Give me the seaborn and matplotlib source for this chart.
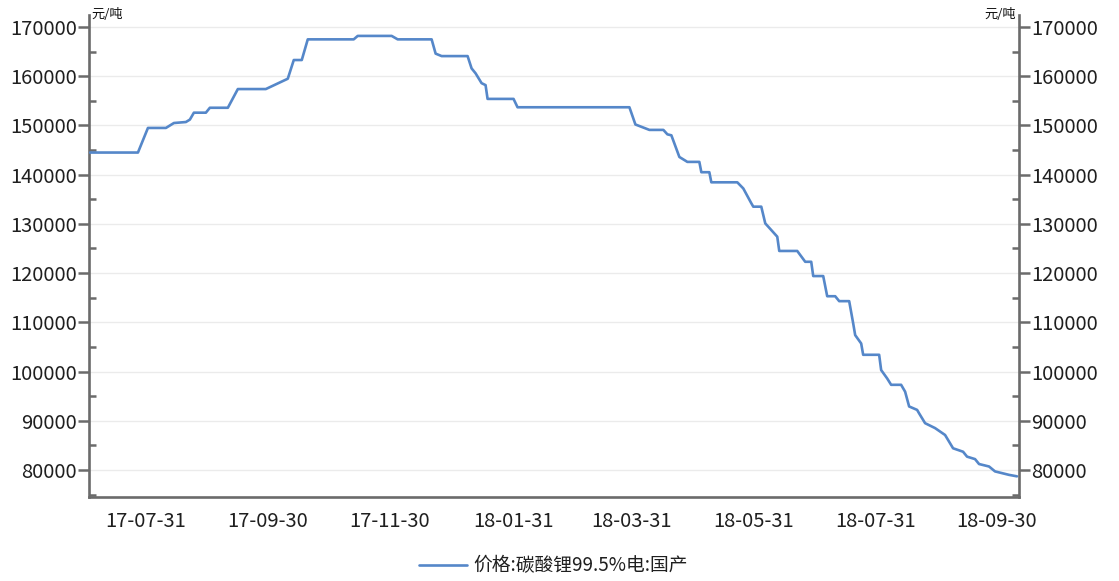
import pandas as pd
import matplotlib
matplotlib.use("Agg")
import matplotlib.pyplot as plt
import matplotlib.dates as mdates
from matplotlib.ticker import MultipleLocator, FixedLocator
import seaborn as sns

# price of lithium carbonate 99.5% battery grade, domestic (yuan / ton)
dates = [
    "2017-07-03", "2017-07-27", "2017-08-01", "2017-08-10", "2017-08-14",
    "2017-08-20", "2017-08-22", "2017-08-24", "2017-08-30", "2017-09-01",
    "2017-09-10", "2017-09-15", "2017-09-29", "2017-10-10", "2017-10-13",
    "2017-10-17", "2017-10-20", "2017-11-12", "2017-11-14", "2017-12-01",
    "2017-12-04", "2017-12-21", "2017-12-23", "2017-12-26", "2018-01-08",
    "2018-01-10", "2018-01-12", "2018-01-15", "2018-01-17", "2018-01-18",
    "2018-01-31", "2018-02-02", "2018-03-30", "2018-04-02", "2018-04-09",
    "2018-04-16", "2018-04-18", "2018-04-20", "2018-04-24", "2018-04-28",
    "2018-05-04", "2018-05-05", "2018-05-09", "2018-05-10", "2018-05-23",
    "2018-05-26", "2018-05-30", "2018-05-31", "2018-06-04", "2018-06-06",
    "2018-06-12", "2018-06-13", "2018-06-22", "2018-06-26", "2018-06-29",
    "2018-06-30", "2018-07-05", "2018-07-07", "2018-07-11", "2018-07-13",
    "2018-07-18", "2018-07-20", "2018-07-21", "2018-07-24", "2018-07-25",
    "2018-08-02", "2018-08-03", "2018-08-06", "2018-08-08", "2018-08-13",
    "2018-08-15", "2018-08-17", "2018-08-21", "2018-08-22", "2018-08-25",
    "2018-08-30", "2018-09-04", "2018-09-08", "2018-09-13", "2018-09-15",
    "2018-09-19", "2018-09-21", "2018-09-26", "2018-09-29", "2018-10-06",
    "2018-10-10",
]
prices = [
    144500, 144500, 149500, 149500, 150500,
    150700, 151200, 152600, 152600, 153600,
    153600, 157400, 157400, 159500, 163300,
    163300, 167500, 167500, 168200, 168200,
    167500, 167500, 164600, 164100, 164100,
    161600, 160600, 158600, 158200, 155400,
    155400, 153700, 153700, 150200, 149100,
    149100, 148200, 148000, 143600, 142600,
    142600, 140500, 140500, 138450, 138450,
    137200, 134200, 133500, 133500, 130100,
    127400, 124500, 124500, 122300, 122300,
    119400, 119400, 115300, 115300, 114300,
    114300, 109800, 107400, 105700, 103400,
    103400, 100300, 98600, 97300, 97300,
    95900, 92900, 92200, 91500, 89500,
    88500, 87100, 84400, 83700, 82700,
    82200, 81200, 80700, 79700, 79000,
    78700,
]
series_name = "价格:碳酸锂99.5%电:国产"
unit = "元/吨"
major_ticks = ["2017-07-31", "2017-09-30", "2017-11-30", "2018-01-31",
               "2018-03-31", "2018-05-31", "2018-07-31", "2018-09-30"]
minor_ticks = ["2017-08-31", "2017-10-31", "2017-12-31", "2018-02-28",
               "2018-04-30", "2018-06-30", "2018-08-31"]

df = pd.DataFrame({"date": pd.to_datetime(dates), "price": prices})

sns.set_style("white")
plt.rcParams["font.family"] = ["Noto Sans CJK SC", "DejaVu Sans"]
plt.rcParams["axes.unicode_minus"] = False

spine_c = "#6b6b6b"
line_c = "#5587c9"
text_c = "#1f1f1f"

fig = plt.figure(figsize=(11.19, 5.81), dpi=100)
ax = fig.add_axes([89 / 1119, 1 - 497 / 581, 930 / 1119, 482 / 581])
sns.lineplot(data=df, x="date", y="price", ax=ax, color=line_c, lw=1.9,
             label=series_name, zorder=3)

ymin, ymax = 74500, 172450
ax.set_ylim(ymin, ymax)
ax.set_xlim(pd.Timestamp("2017-07-02 12:00"), pd.Timestamp("2018-10-11"))
ax.set_xlabel("")
ax.set_ylabel("")

ax.xaxis.set_major_locator(FixedLocator(mdates.date2num(pd.to_datetime(major_ticks))))
ax.xaxis.set_minor_locator(FixedLocator(mdates.date2num(pd.to_datetime(minor_ticks))))
ax.xaxis.set_major_formatter(mdates.DateFormatter("%y-%m-%d"))
ax.yaxis.set_major_locator(MultipleLocator(10000))
ax.yaxis.set_minor_locator(MultipleLocator(5000))
ax.yaxis.grid(True, which="major", color="#ebebeb", lw=1.0, zorder=0)
ax.xaxis.grid(False)

fs = 14.5
ax.tick_params(axis="x", which="major", direction="out", length=7, width=1.8,
               color=spine_c, labelsize=fs, labelcolor=text_c, pad=3)
ax.tick_params(axis="x", which="minor", direction="out", length=4, width=1.8,
               color=spine_c)
ax.tick_params(axis="y", which="major", direction="out", length=8, width=1.8,
               color=spine_c, labelsize=fs, labelcolor=text_c, pad=0.5)
ax.tick_params(axis="y", which="minor", direction="in", length=5, width=1.8,
               color=spine_c)

for s in ["top", "right"]:
    ax.spines[s].set_visible(False)
for s in ["left", "bottom"]:
    ax.spines[s].set_color(spine_c)
    ax.spines[s].set_linewidth(1.9)

ax2 = ax.twinx()
ax2.set_ylim(ymin, ymax)
ax2.yaxis.set_major_locator(MultipleLocator(10000))
ax2.yaxis.set_minor_locator(MultipleLocator(5000))
ax2.tick_params(axis="y", which="major", direction="out", length=8, width=1.8,
                color=spine_c, labelsize=fs, labelcolor=text_c, pad=0.5)
ax2.tick_params(axis="y", which="minor", direction="in", length=5, width=1.8,
                color=spine_c)
for s in ["top", "left", "bottom"]:
    ax2.spines[s].set_visible(False)
ax2.spines["right"].set_color(spine_c)
ax2.spines["right"].set_linewidth(1.9)

# unit labels at the top of both axes
ax.text(0.003, 1.0, unit, transform=ax.transAxes, ha="left", va="center",
        fontsize=9.5, color="#111111")
ax.text(0.997, 1.0, unit, transform=ax.transAxes, ha="right", va="center",
        fontsize=9.5, color="#111111")

handles, labels = ax.get_legend_handles_labels()
ax.get_legend().remove()
fig.legend(handles, labels, loc="center", bbox_to_anchor=(553 / 1119, 0.026),
           frameon=False, fontsize=13.5, handlelength=2.6, handletextpad=0.3,
           labelcolor=text_c)

fig.savefig("out.png", dpi=100)
